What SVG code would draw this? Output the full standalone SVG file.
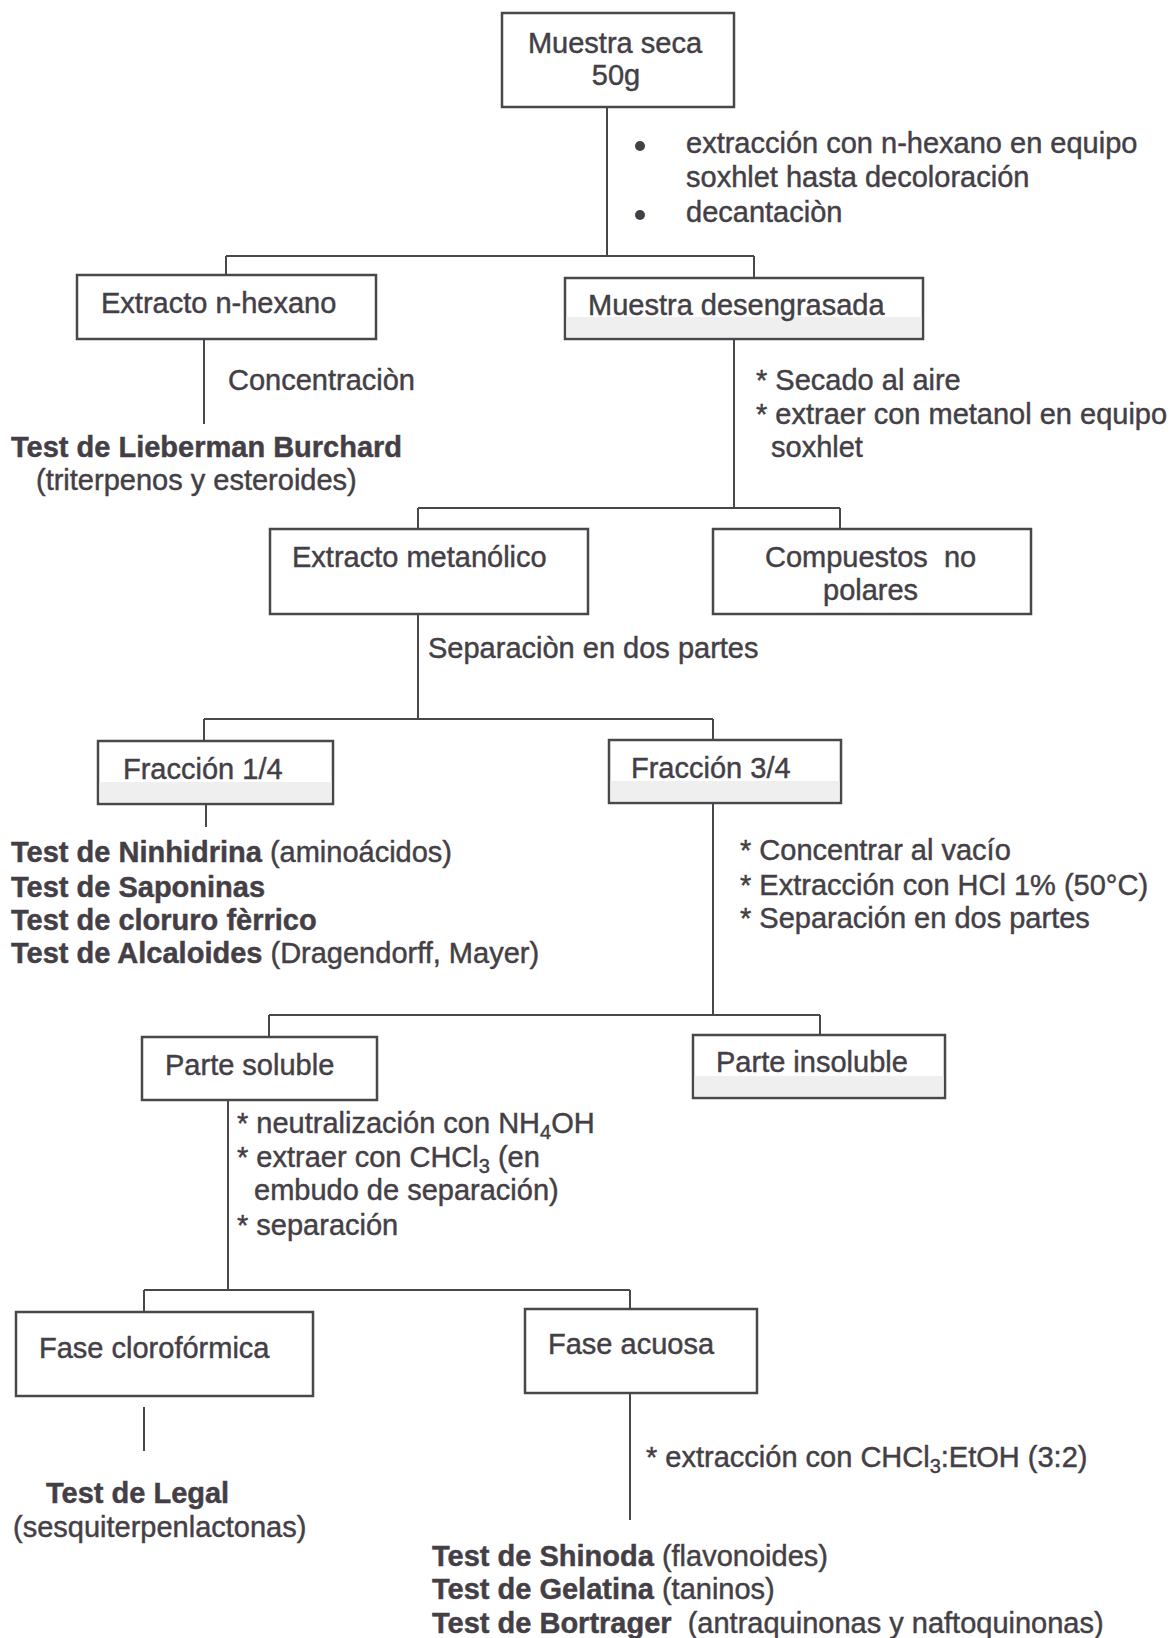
<svg xmlns="http://www.w3.org/2000/svg" width="1174" height="1638" viewBox="0 0 1174 1638">
<style>
text{font-family:"Liberation Sans",Arial,Helvetica,sans-serif;font-size:29px;fill:#443f46;stroke:#443f46;stroke-width:0.45}
.b{font-weight:bold}
.box{fill:#fff;stroke:#4a474c;stroke-width:2.5}
.band{fill:#efefef;stroke:none}
.ln{stroke:#4a474c;stroke-width:2;fill:none}
.sub{font-size:20px}
</style>
<rect width="1174" height="1638" fill="#fff"/>
<g id="connectors">
<path class="ln" d="M607,107V256M226,256H754M226,256V276M754,256V278"/>
<path class="ln" d="M204,339V424"/>
<path class="ln" d="M734,339V508M418,508H840M418,508V529M840,508V529"/>
<path class="ln" d="M418,614V719M204,719H713M204,719V741M713,719V740"/>
<path class="ln" d="M206,804V827"/>
<path class="ln" d="M713,803V1015M269,1015H820M269,1015V1037M820,1015V1035"/>
<path class="ln" d="M228,1100V1290M144,1290H630M144,1290V1312M630,1290V1309"/>
<path class="ln" d="M144,1407V1451"/>
<path class="ln" d="M630,1393V1520"/>
</g>
<g id="muestra-seca">
<rect class="box" x="502" y="13" width="232" height="94"/>
<text x="615" y="53" text-anchor="middle">Muestra seca</text>
<text x="616" y="85" text-anchor="middle">50g</text>
</g>
<g id="step1">
<circle cx="640" cy="146" r="5" fill="#443f46"/>
<circle cx="640" cy="215" r="5" fill="#443f46"/>
<text x="686" y="153">extracción con n-hexano en equipo</text>
<text x="686" y="187">soxhlet hasta decoloración</text>
<text x="686" y="222">decantaciòn</text>
</g>
<g id="extracto-hexano">
<rect class="box" x="77" y="275" width="299" height="64"/>
<text x="101" y="313">Extracto n-hexano</text>
</g>
<text x="228" y="390">Concentraciòn</text>
<g id="test-lieberman">
<text class="b" x="11" y="457">Test de Lieberman Burchard</text>
<text x="36" y="490">(triterpenos y esteroides)</text>
</g>
<g id="muestra-desengrasada">
<rect class="box" x="565" y="278" width="358" height="61"/>
<rect class="band" x="566.5" y="317" width="355" height="20"/>
<text x="588" y="315">Muestra desengrasada</text>
</g>
<g id="step2">
<text x="756" y="390">* Secado al aire</text>
<text x="756" y="424">* extraer con metanol en equipo</text>
<text x="771" y="457">soxhlet</text>
</g>
<g id="extracto-metanolico">
<rect class="box" x="270" y="529" width="318" height="85"/>
<text x="292" y="567">Extracto metanólico</text>
</g>
<g id="compuestos-no-polares">
<rect class="box" x="713" y="529" width="318" height="85"/>
<text x="765" y="567" xml:space="preserve">Compuestos  no</text>
<text x="823" y="600">polares</text>
</g>
<text x="428" y="658">Separaciòn en dos partes</text>
<g id="fraccion-14">
<rect class="box" x="98" y="741" width="235" height="63"/>
<rect class="band" x="99.5" y="782" width="232" height="20"/>
<text x="123" y="779">Fracción 1/4</text>
</g>
<g id="fraccion-34">
<rect class="box" x="609" y="740" width="232" height="63"/>
<rect class="band" x="610.5" y="781" width="229" height="20"/>
<text x="631" y="778">Fracción 3/4</text>
</g>
<g id="tests-fraccion-14">
<text x="11" y="862"><tspan class="b">Test de Ninhidrina</tspan> (aminoácidos)</text>
<text x="11" y="897" class="b">Test de Saponinas</text>
<text x="11" y="930" class="b">Test de cloruro fèrrico</text>
<text x="11" y="963"><tspan class="b">Test de Alcaloides</tspan> (Dragendorff, Mayer)</text>
</g>
<g id="step3">
<text x="740" y="860">* Concentrar al vacío</text>
<text x="740" y="895">* Extracción con HCl 1% (50°C)</text>
<text x="740" y="928">* Separación en dos partes</text>
</g>
<g id="parte-soluble">
<rect class="box" x="142" y="1037" width="235" height="63"/>
<text x="165" y="1075">Parte soluble</text>
</g>
<g id="parte-insoluble">
<rect class="box" x="693" y="1035" width="252" height="63"/>
<rect class="band" x="694.5" y="1076" width="249" height="20"/>
<text x="716" y="1072">Parte insoluble</text>
</g>
<g id="step4">
<text x="237" y="1133">* neutralización con NH<tspan class="sub" dy="6">4</tspan><tspan dy="-6">OH</tspan></text>
<text x="237" y="1167">* extraer con CHCl<tspan class="sub" dy="6">3</tspan><tspan dy="-6"> (en</tspan></text>
<text x="254" y="1200">embudo de separación)</text>
<text x="237" y="1235">* separación</text>
</g>
<g id="fase-cloroformica">
<rect class="box" x="16" y="1312" width="297" height="84"/>
<text x="39" y="1358">Fase clorofórmica</text>
</g>
<g id="fase-acuosa">
<rect class="box" x="525" y="1309" width="232" height="84"/>
<text x="548" y="1354">Fase acuosa</text>
</g>
<text x="646" y="1467">* extracción con CHCl<tspan class="sub" dy="6">3</tspan><tspan dy="-6">:EtOH (3:2)</tspan></text>
<g id="test-legal">
<text class="b" x="46" y="1503">Test de Legal</text>
<text x="13" y="1537">(sesquiterpenlactonas)</text>
</g>
<g id="tests-fase-acuosa">
<text x="432" y="1566"><tspan class="b">Test de Shinoda</tspan> (flavonoides)</text>
<text x="432" y="1599"><tspan class="b">Test de Gelatina</tspan> (taninos)</text>
<text x="432" y="1633" xml:space="preserve"><tspan class="b">Test de Bortrager</tspan>  (antraquinonas y naftoquinonas)</text>
</g>
</svg>
